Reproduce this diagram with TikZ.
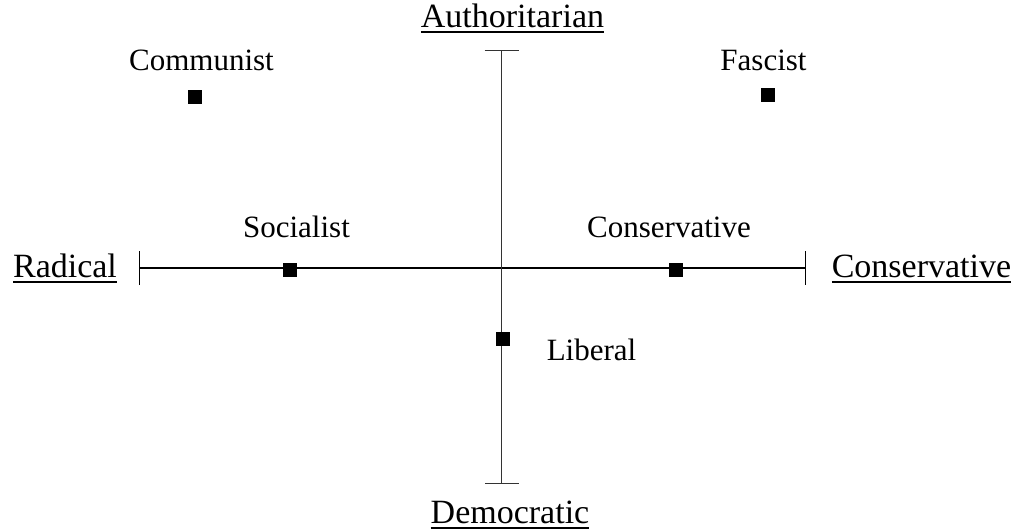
\documentclass[tikz,border=0pt]{standalone}
\usepackage{fontspec}
\setmainfont{Liberation Serif}
\usetikzlibrary{arrows.meta}

% underlined axis heading
\newcommand{\ulhead}[1]{\setbox0\hbox{#1}\rlap{\rule[-5.5pt]{\wd0}{1.6pt}}\box0}

\begin{document}
\begin{tikzpicture}[
  x=1pt, y=-1pt,
  axis/.style={line width=1.1pt, {Bar[width=34pt,line width=0.9pt]}-{Bar[width=34pt,line width=0.9pt]}},
  vaxis/.style={line width=0.8pt, black!80, {Bar[width=34pt,line width=1.2pt]}-{Bar[width=34pt,line width=1.2pt]}},
  head/.style={inner sep=0pt, anchor=base, font=\fontsize{34}{40}\selectfont},
  lbl/.style={inner sep=0pt, anchor=base, font=\fontsize{31}{36}\selectfont},
  party/.style={fill=black, minimum size=14pt, inner sep=0pt}
]
\useasboundingbox (0,0) rectangle (1023,531);

% Axis ends
\coordinate (left)   at (139,268);
\coordinate (right)  at (806,268);
\coordinate (top)    at (501.5,50);
\coordinate (bottom) at (501.5,484);

% Axes
\draw[axis] (left) -- (right);
\draw[vaxis] (top) -- (bottom);

% Axis headings
\node[head] (auth) at (512.5,27)  {\ulhead{Authoritarian}};
\node[head] (demo) at (510,523)   {\ulhead{Democratic}};
\node[head] (rad)  at (65,277)    {\ulhead{Radical}};
\node[head] (cons) at (921.5,277) {\ulhead{Conservative}};

% Parties
\node[party] (pcom) at (195,97)    {};
\node[party] (pfas) at (768,95)    {};
\node[party] (psoc) at (290,269.5) {};
\node[party] (pcon) at (675.5,270) {};
\node[party] (plib) at (503,339)   {};

\node[lbl] (lcom) at (201.5,70) {Communist};
\node[lbl] (lfas) at (763.5,70) {Fascist};
\node[lbl] (lsoc) at (296.5,237) {Socialist};
\node[lbl] (lcon) at (669,237)   {Conservative};
\node[lbl] (llib) at (591.5,360) {Liberal};

\end{tikzpicture}
\end{document}
